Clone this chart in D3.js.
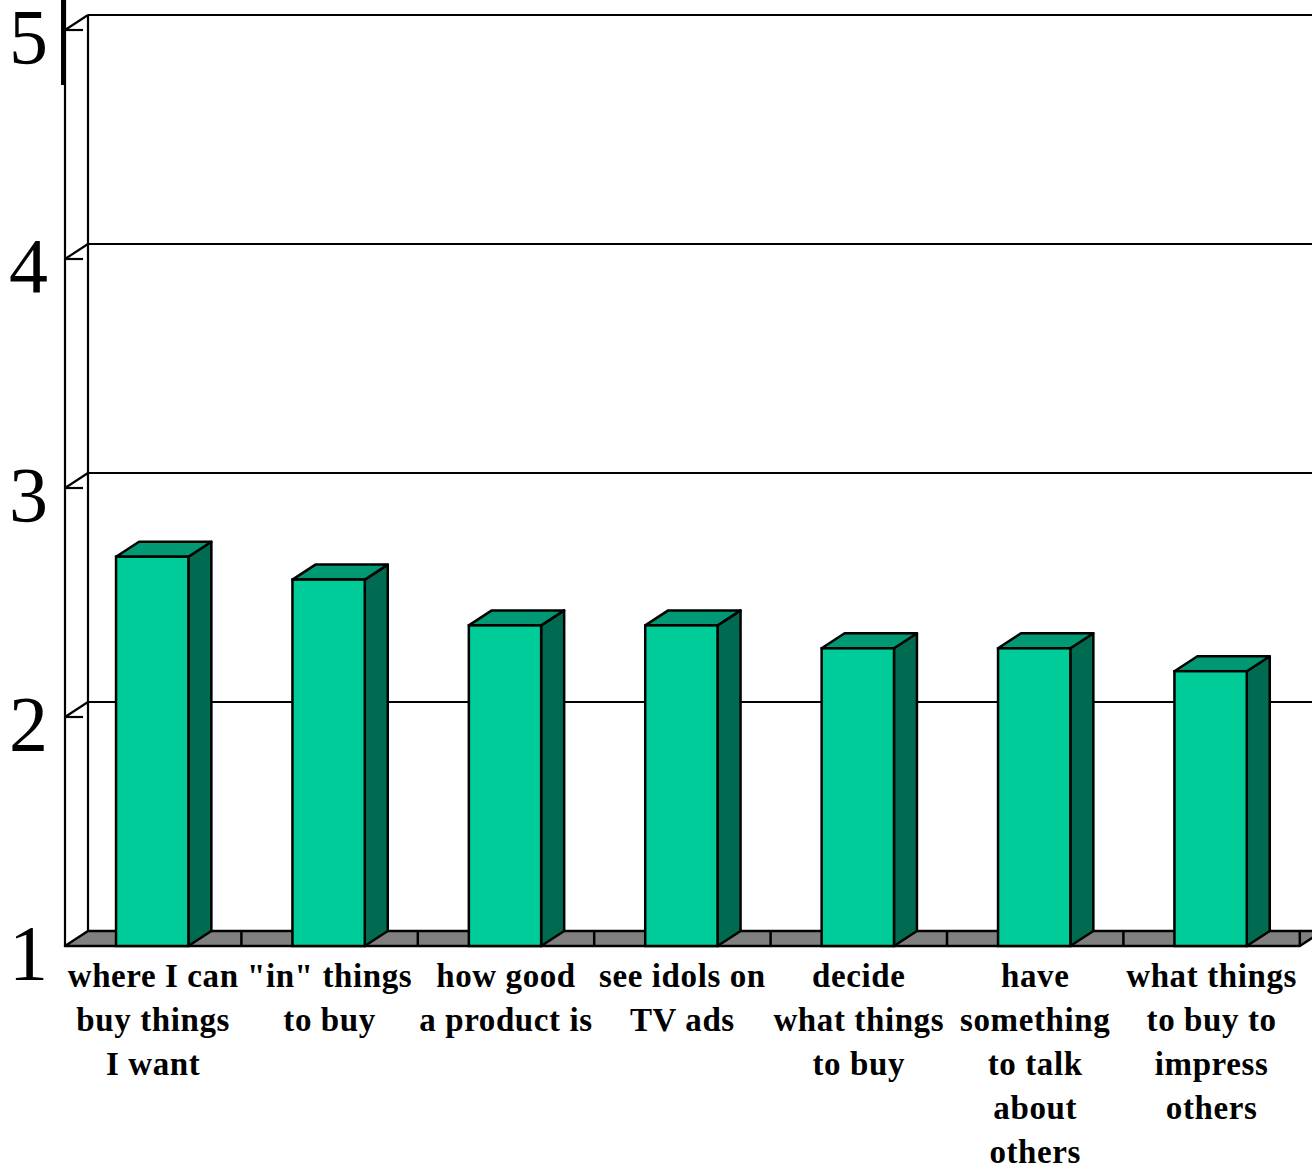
<!DOCTYPE html>
<html>
<head>
<meta charset="utf-8">
<script src="https://cdn.jsdelivr.net/npm/d3@7"></script>
<style>
  html, body { margin: 0; padding: 0; background: #fff; }
  svg { display: block; }
</style>
</head>
<body>
<svg id="chart" width="1312" height="1169"></svg>
<script>
// Kategorien (mehrzeilige Beschriftungen) und Mittelwerte
const categories = ["c1", "c2", "c3", "c4", "c5", "c6", "c7"];
const labels = [
  ["where I can", "buy things", "I want"],
  ["\"in\" things", "to buy"],
  ["how good", "a product is"],
  ["see idols on", "TV ads"],
  ["decide", "what things", "to buy"],
  ["have", "something", "to talk", "about", "others"],
  ["what things", "to buy to", "impress", "others"]
];
const values = [2.7, 2.6, 2.4, 2.4, 2.3, 2.3, 2.2];
const yTicks = [1, 2, 3, 4, 5];

const svg = d3.select("#chart");

const plotLeft = 65, plotBottom = 946, plotTop = 30;
const step = 176.4;
const depthX = 23, depthY = -15;

const x = d3.scaleBand()
  .domain(categories)
  .range([plotLeft, plotLeft + step * categories.length])
  .padding(0);

const y = d3.scaleLinear()
  .domain([1, 5])
  .range([plotBottom, plotTop]);

const barW = x.bandwidth() * 0.41;
const g = svg.append("g");

// Rückwand: Gitterlinien
g.selectAll("line.grid")
  .data(yTicks.filter(d => d > 1))
  .enter()
  .append("line")
    .attr("class", "grid")
    .attr("x1", plotLeft + depthX)
    .attr("x2", 1312)
    .attr("y1", d => y(d) + depthY)
    .attr("y2", d => y(d) + depthY)
    .attr("stroke", "#000")
    .attr("stroke-width", 2.2);

// linke Rückwandkante
g.append("line")
  .attr("x1", plotLeft + depthX).attr("x2", plotLeft + depthX)
  .attr("y1", y(5) + depthY).attr("y2", y(1) + depthY)
  .attr("stroke", "#000").attr("stroke-width", 2.2);

// vordere Achse
g.append("line")
  .attr("x1", plotLeft).attr("x2", plotLeft)
  .attr("y1", 0).attr("y2", plotBottom)
  .attr("stroke", "#000").attr("stroke-width", 2.2);

g.append("line")
  .attr("x1", 63.5).attr("x2", 63.5)
  .attr("y1", 0).attr("y2", 85)
  .attr("stroke", "#000").attr("stroke-width", 5);

// Ticks: horizontal + diagonal zur Rückwand
const ticks = g.selectAll("g.tick")
  .data(yTicks.filter(d => d > 1))
  .enter()
  .append("g")
    .attr("class", "tick");

ticks.append("line")
  .attr("x1", plotLeft).attr("x2", plotLeft + 18)
  .attr("y1", d => y(d)).attr("y2", d => y(d))
  .attr("stroke", "#000").attr("stroke-width", 2.2);

ticks.append("line")
  .attr("x1", plotLeft).attr("x2", plotLeft + depthX)
  .attr("y1", d => y(d)).attr("y2", d => y(d) + depthY)
  .attr("stroke", "#000").attr("stroke-width", 2.2);

g.selectAll("text.ylab")
  .data(yTicks)
  .enter()
  .append("text")
    .attr("class", "ylab")
    .attr("x", 48)
    .attr("y", d => y(d) + 33)
    .attr("text-anchor", "end")
    .attr("font-family", "Liberation Serif, Times New Roman, serif")
    .attr("font-size", 78)
    .attr("fill", "#000")
    .text(d => d);

// Boden (grau)
const floorRight = x.range()[1];
g.append("path")
  .attr("d", `M${plotLeft},${plotBottom} L${floorRight},${plotBottom} L${floorRight + depthX},${plotBottom + depthY} L${plotLeft + depthX},${plotBottom + depthY} Z`)
  .attr("fill", "#808080")
  .attr("stroke", "#000")
  .attr("stroke-width", 2.5)
  .attr("stroke-linejoin", "round");

g.selectAll("line.floor-sep")
  .data(categories.slice(1).concat(["end"]))
  .enter()
  .append("line")
    .attr("class", "floor-sep")
    .attr("x1", d => d === "end" ? floorRight : x(d))
    .attr("x2", d => d === "end" ? floorRight : x(d))
    .attr("y1", plotBottom + depthY)
    .attr("y2", plotBottom)
    .attr("stroke", "#000")
    .attr("stroke-width", 2.5);

// Balken (3D)
const bars = g.selectAll("g.bar")
  .data(values.map((v, i) => ({ cat: categories[i], v })))
  .enter()
  .append("g")
    .attr("class", "bar");

const bx = d => x(d.cat) + (x.bandwidth() - barW) / 2 - 1;

bars.append("path")
  .attr("d", d => {
    const x0 = bx(d) + barW, t = y(d.v);
    return `M${x0},${t} L${x0 + depthX},${t + depthY} L${x0 + depthX},${plotBottom + depthY} L${x0},${plotBottom} Z`;
  })
  .attr("fill", "#006B50")
  .attr("stroke", "#000").attr("stroke-width", 2.5).attr("stroke-linejoin", "round");

bars.append("path")
  .attr("d", d => {
    const x0 = bx(d), t = y(d.v);
    return `M${x0},${t} L${x0 + depthX},${t + depthY} L${x0 + barW + depthX},${t + depthY} L${x0 + barW},${t} Z`;
  })
  .attr("fill", "#009973")
  .attr("stroke", "#000").attr("stroke-width", 2.5).attr("stroke-linejoin", "round");

bars.append("rect")
  .attr("x", d => bx(d))
  .attr("y", d => y(d.v))
  .attr("width", barW)
  .attr("height", d => plotBottom - y(d.v))
  .attr("fill", "#00CC99")
  .attr("stroke", "#000").attr("stroke-width", 2.5);

// Kategorienbeschriftung
const catText = g.selectAll("text.xlab")
  .data(categories)
  .enter()
  .append("text")
    .attr("class", "xlab")
    .attr("text-anchor", "middle")
    .attr("font-family", "Liberation Serif, Times New Roman, serif")
    .attr("font-weight", "bold")
    .attr("font-size", 33)
    .attr("letter-spacing", 0.6)
    .attr("fill", "#000");

catText.selectAll("tspan")
  .data((d, i) => labels[i].map(t => ({ t, cat: d })))
  .enter()
  .append("tspan")
    .attr("x", d => x(d.cat) + x.bandwidth() / 2)
    .attr("y", (d, j) => 987 + j * 44)
    .text(d => d.t);
</script>
</body>
</html>
